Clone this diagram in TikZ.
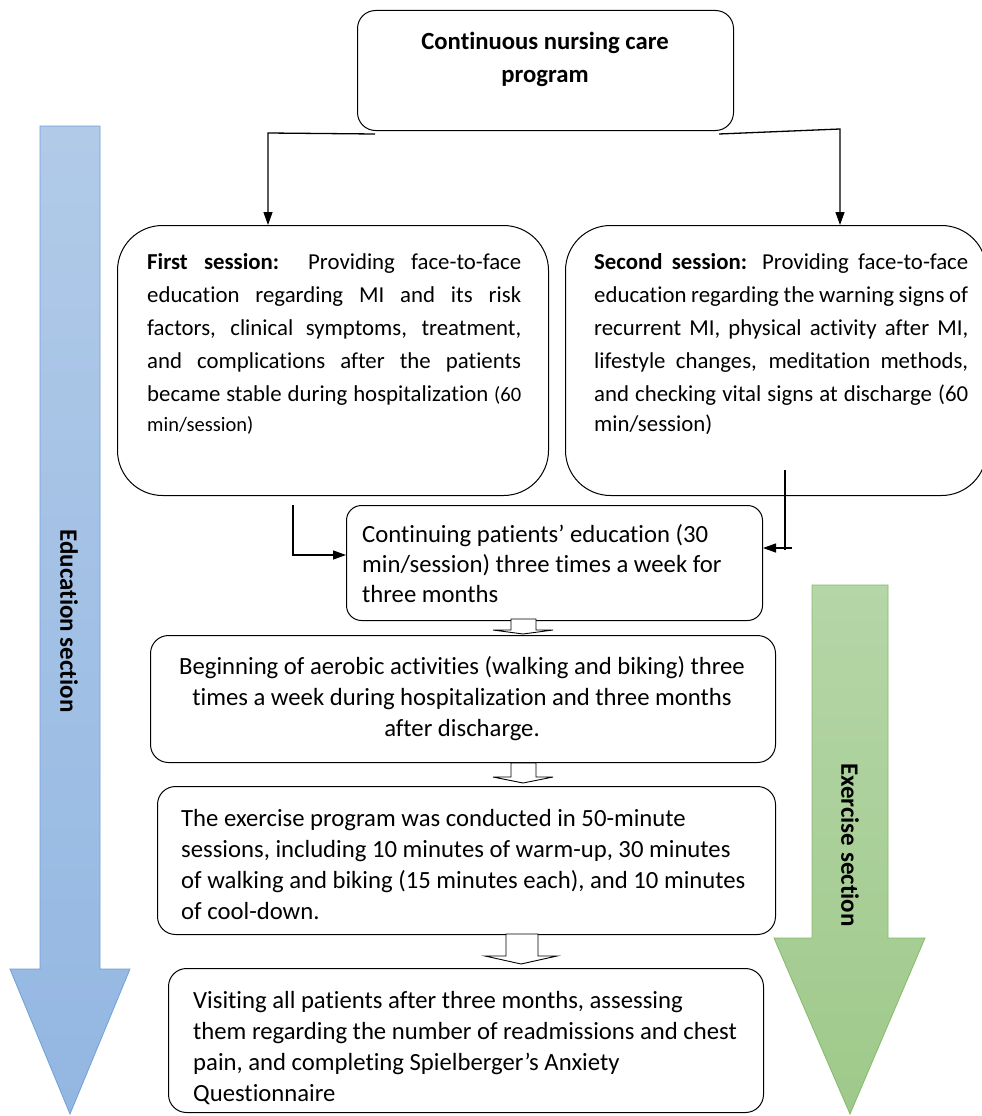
\documentclass[tikz,border=0pt]{standalone}
\usepackage{fontspec}
\setmainfont{Carlito}[Ligatures=NoCommon]
\usetikzlibrary{arrows.meta}
\definecolor{bluetop}{HTML}{B1CAE8}
\definecolor{bluebot}{HTML}{93B7E2}
\definecolor{blueedge}{HTML}{6FA0D6}
\definecolor{greentop}{HTML}{B5D6A7}
\definecolor{greenbot}{HTML}{9FC98B}
\definecolor{greenedge}{HTML}{85BA6A}
\newcommand\bodyfont{\fontsize{24.7}{31}\selectfont}
\newcommand\sessfont{\fontsize{22.8}{33}\selectfont}
\newcommand\smallsess{\fontsize{20.5}{24}\selectfont}
\newcommand\jl[1]{{\spaceskip=0pt\xspaceskip=0pt\makebox[374pt][s]{#1}}}
\begin{document}
\begin{tikzpicture}[x=1pt,y=-1pt,
  box/.style={draw, line width=1pt, inner sep=0pt, anchor=north west},
  txt/.style={inner sep=0pt, font=\bodyfont, execute at begin node={\spaceskip=0pt\xspaceskip=0pt}},
  conn/.style={line width=1.3pt, -{Triangle[length=13pt,width=9pt]}},
  plain/.style={line width=1.3pt},
  blk/.style={draw, fill=white, line width=0.9pt},
  bigblue/.style={top color=bluetop, bottom color=bluebot, draw=blueedge, line width=0.8pt},
  biggreen/.style={top color=greentop, bottom color=greenbot, draw=greenedge, line width=0.8pt},
  lbl/.style={rotate=-90, font=\fontsize{25}{30}\selectfont\bfseries, inner sep=0pt}
]
\useasboundingbox (0,0) rectangle (982,1116);
\fill[white] (0,0) rectangle (982,1116);

% big side arrows
\path[bigblue] (40,126) -- (100,126) -- (100,969) -- (130,969) -- (70,1114) -- (10,969) -- (40,969) -- cycle;
\node[lbl] (edu) at (69,621) {Education section};
\path[biggreen] (812,585) -- (888,585) -- (888,938) -- (925,938) -- (850,1114) -- (774,938) -- (812,938) -- cycle;
\node[lbl] (exe) at (850,845) {Exercise section};

% boxes
\node[box, rounded corners=18pt, minimum width=376pt, minimum height=120pt] (top) at (357,10) {};
\node[box, rounded corners=45pt, minimum width=431pt, minimum height=270pt] (s1) at (117,225) {};
\node[box, rounded corners=45pt, minimum width=421pt, minimum height=270pt] (s2) at (565,225) {};
\node[box, rounded corners=15pt, minimum width=416pt, minimum height=115pt] (c3) at (346,505) {};
\node[box, rounded corners=18pt, minimum width=625pt, minimum height=127pt] (c4) at (150,635) {};
\node[box, rounded corners=18pt, minimum width=618pt, minimum height=148pt] (c5) at (157,786) {};
\node[box, rounded corners=18pt, minimum width=595pt, minimum height=144pt] (c6) at (168,968) {};

% texts (base anchor = last line for plain multi-line nodes)
\node[txt, font=\bodyfont\bfseries, align=center, anchor=base] (ttop) at (545,82)
  {Continuous nursing care\\[2pt]program};
\node[txt, align=left, text width=374pt, anchor=base west, font=\sessfont] (ts1) at (147,269)
  {\jl{\textbf{First session:} Providing face-to-face}\\
   \jl{education regarding MI and its risk}\\
   \jl{factors, clinical symptoms, treatment,}\\
   \jl{and complications after the patients}\\
   \jl{became stable during hospitalization {\smallsess(60}}\\[-3pt]
   {\smallsess min/session)}};
\node[txt, align=left, text width=374pt, anchor=base west, font=\sessfont] (ts2) at (594,269)
  {\jl{\textbf{Second session:} Providing face-to-face}\\
   \jl{education regarding the warning signs of}\\
   \jl{recurrent MI, physical activity after MI,}\\
   \jl{lifestyle changes, meditation methods,}\\
   \jl{and checking vital signs at discharge (60}\\[-3pt]
   min/session)};
\node[txt, align=left, anchor=base west, font=\fontsize{24.7}{30}\selectfont] (tc3) at (362,602)
  {Continuing patients’ education (30\\
   min/session) three times a week for\\
   three months};
\node[txt, align=center, anchor=base] (tc4) at (462,736)
  {Beginning of aerobic activities (walking and biking) three\\
   times a week during hospitalization and three months\\
   after discharge.};
\node[txt, align=left, anchor=base west] (tc5) at (181,919)
  {The exercise program was conducted in 50-minute\\
   sessions, including 10 minutes of warm-up, 30 minutes\\
   of walking and biking (15 minutes each), and 10 minutes\\
   of cool-down.};
\node[txt, align=left, anchor=base west] (tc6) at (193,1101)
  {Visiting all patients after three months, assessing\\
   them regarding the number of readmissions and chest\\
   pain, and completing Spielberger’s Anxiety\\
   Questionnaire};

% connectors from top box
\coordinate (lj) at (268,133);
\coordinate (rj) at (840,129);
\draw[conn] ([xshift=18pt,yshift=-3pt]top.south west) -- (lj) -- (s1.north west -| lj);
\draw[conn] ([xshift=-15pt,yshift=-3pt]top.south east) -- (rj) -- (s2.north west -| rj);

% connectors into c3
\coordinate (la) at (293,505);
\coordinate (ra) at (785,470);
\coordinate (rb) at (792,548);
\draw[conn] (la) |- ([yshift=-50pt]c3.north west);
\draw[plain] (ra) -- (785,550);
\draw[conn] (rb) -- (rb -| c3.east);

% block arrows between boxes
\draw[blk] (511,619) -- (536,619) -- (536,630) -- (553,630) -- (523,634) -- (493,630) -- (511,630) -- cycle;
\draw[blk] (511,763) -- (536,763) -- (536,777) -- (553,777) -- (523,783) -- (493,777) -- (511,777) -- cycle;
\draw[blk] (506,934) -- (538,934) -- (538,956) -- (557,956) -- (521,964) -- (485,956) -- (506,956) -- cycle;
\end{tikzpicture}
\end{document}
